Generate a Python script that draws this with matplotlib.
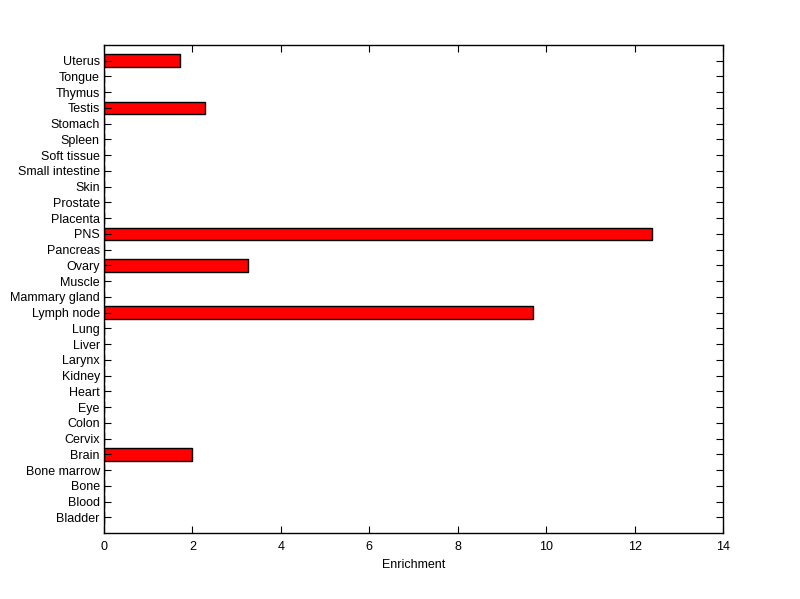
import matplotlib
matplotlib.use("Agg")
import matplotlib.pyplot as plt
from matplotlib import rcParams
rcParams['font.family'] = 'Liberation Sans'
rcParams['font.size'] = 9

tissues = ["Bladder", "Blood", "Bone", "Bone marrow", "Brain", "Cervix", "Colon",
           "Eye", "Heart", "Kidney", "Larynx", "Liver", "Lung", "Lymph node",
           "Mammary gland", "Muscle", "Ovary", "Pancreas", "PNS", "Placenta",
           "Prostate", "Skin", "Small intestine", "Soft tissue", "Spleen",
           "Stomach", "Testis", "Thymus", "Tongue", "Uterus"]
enrichment = [0, 0, 0, 0, 1.98, 0, 0, 0, 0, 0, 0, 0, 0, 9.69, 0, 0, 3.26, 0,
              12.40, 0, 0, 0, 0, 0, 0, 0, 2.28, 0, 0, 1.72]
xticks = [0, 2, 4, 6, 8, 10, 12, 14]

fig = plt.figure(figsize=(8.0, 5.99), dpi=100)
ax = fig.add_axes([0.13, 0.110, 0.774, 0.815])

pos = list(range(1, len(tissues) + 1))
ax.barh(pos, enrichment, height=0.8, color='#ff0000', edgecolor='black', linewidth=1.0)

ax.set_xlim(0, 14)
ax.set_ylim(0, len(tissues) + 1)
ax.set_xticks(xticks)
ax.set_yticks(pos)
ax.set_yticklabels(tissues)
ax.set_xlabel("Enrichment", labelpad=4)
ax.tick_params(axis='x', pad=6)
ax.tick_params(direction='in', top=True, right=True, length=5, width=0.8)
ax.tick_params(axis='y', pad=3)
for s in ax.spines.values():
    s.set_linewidth(1.0)

fig.savefig("out.png", dpi=100)
